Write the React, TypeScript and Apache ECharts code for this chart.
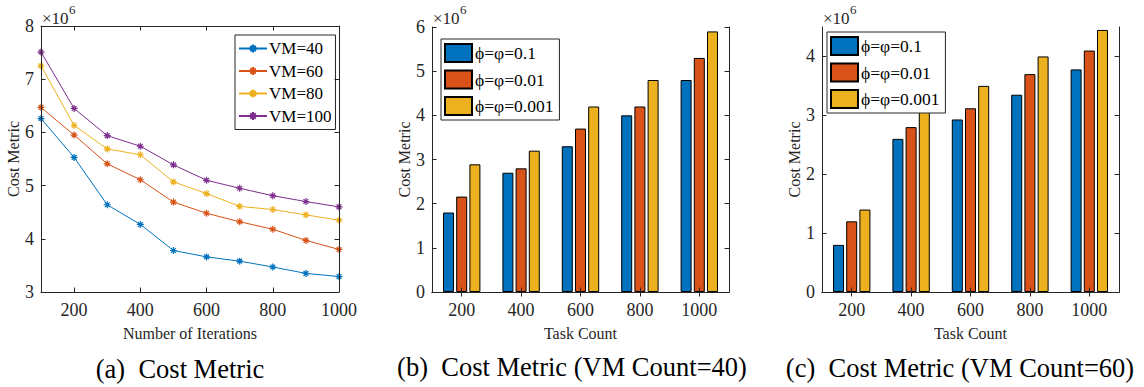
import React, { useEffect, useRef } from "react";
import * as echarts from "echarts";

const ITERATIONS = [100, 200, 300, 400, 500, 600, 700, 800, 900, 1000];
const ITER_TICKS = [200, 400, 600, 800, 1000];
const VM40 = [6.26, 5.53, 4.64, 4.27, 3.78, 3.66, 3.58, 3.47, 3.35, 3.29];
const VM60 = [6.47, 5.95, 5.41, 5.11, 4.69, 4.48, 4.32, 4.18, 3.97, 3.8];
const VM80 = [7.25, 6.13, 5.69, 5.58, 5.07, 4.85, 4.61, 4.55, 4.45, 4.35];
const VM100 = [7.51, 6.45, 5.94, 5.74, 5.39, 5.1, 4.95, 4.81, 4.7, 4.6];
const COST_TICKS = [3, 4, 5, 6, 7, 8];

const TASKS = ["200", "400", "600", "800", "1000"];
const B_P1 = [1.8, 2.7, 3.3, 4.0, 4.8];
const B_P01 = [2.16, 2.8, 3.7, 4.2, 5.3];
const B_P001 = [2.89, 3.2, 4.2, 4.8, 5.9];
const B_TICKS = [0, 1, 2, 3, 4, 5, 6];

const C_P1 = [0.8, 2.6, 2.93, 3.35, 3.78];
const C_P01 = [1.2, 2.8, 3.12, 3.7, 4.1];
const C_P001 = [1.4, 3.1, 3.5, 4.0, 4.45];
const C_TICKS = [0, 1, 2, 3, 4];

const VM_NAMES = ["VM=40", "VM=60", "VM=80", "VM=100"];
const PHI_NAMES = ["ϕ=φ=0.1", "ϕ=φ=0.01", "ϕ=φ=0.001"];
const CAPTIONS = ["(a)  Cost Metric", "(b)  Cost Metric (VM Count=40)", "(c)  Cost Metric (VM Count=60)"];

const BLUE = "#0072BD";
const ORANGE = "#D95319";
const YELLOW = "#EDB120";
const PURPLE = "#7E2F8E";
const AX = "#262626";
const FONT = "Liberation Serif";
const ASTERISK = "path://M5,0L5,10M0,5L10,5M1.6,1.6L8.4,8.4M1.6,8.4L8.4,1.6";

const GRIDS = [
  { left: 41, top: 26, width: 298, height: 266 },
  { left: 432, top: 27, width: 297, height: 265 },
  { left: 822, top: 27, width: 297, height: 265 },
];

export default function App() {
  const ref = useRef<HTMLDivElement>(null);
  useEffect(() => {
    if (!ref.current) return;
    const chart = echarts.init(ref.current, null, { renderer: "svg" });

    const axisLine = { show: true, lineStyle: { color: AX, width: 1 } };
    const fmt = (v: any) => String(v);
    const label = { color: AX, fontSize: 18, fontFamily: FONT, formatter: fmt };
    const nameStyle = { color: AX, fontSize: 16, fontFamily: FONT };

    const valueAxisPair = (gi: number, min: number, max: number, ticks: number[], pos: "x" | "y") => {
      const main: any = {
        type: "value",
        gridIndex: gi,
        min,
        max,
        position: pos === "x" ? "bottom" : "left",
        axisLine,
        axisTick: { show: true, inside: true, length: 4.5, lineStyle: { color: AX }, customValues: ticks },
        axisLabel: { ...label, margin: pos === "x" ? 9 : 7, customValues: ticks },
        splitLine: { show: false },
        name: pos === "x" ? "Number of Iterations" : "Cost Metric",
        nameLocation: "middle",
        nameGap: pos === "x" ? 33 : 19,
        nameTextStyle: nameStyle,
        z: 10,
      };
      const mirror: any = {
        type: "value",
        gridIndex: gi,
        min,
        max,
        position: pos === "x" ? "top" : "right",
        axisLine,
        axisTick: { show: true, inside: true, length: 4.5, lineStyle: { color: AX }, customValues: ticks },
        axisLabel: { show: false },
        splitLine: { show: false },
        z: 10,
      };
      return [main, mirror];
    };

    const catAxisPair = (gi: number) => [
      {
        type: "category",
        gridIndex: gi,
        data: TASKS,
        position: "bottom",
        axisLine,
        axisTick: { show: true, inside: true, alignWithLabel: true, length: 4.5, lineStyle: { color: AX } },
        axisLabel: { ...label, margin: 9 },
        splitLine: { show: false },
        name: "Task Count",
        nameLocation: "middle",
        nameGap: 33,
        nameTextStyle: nameStyle,
        z: 10,
      },
      {
        type: "category",
        gridIndex: gi,
        data: TASKS,
        position: "top",
        axisLine,
        axisTick: { show: true, inside: true, alignWithLabel: true, length: 4.5, lineStyle: { color: AX } },
        axisLabel: { show: false },
        splitLine: { show: false },
        z: 10,
      },
    ];

    const xAxes = [
      ...valueAxisPair(0, 100, 1000, ITER_TICKS, "x"),
      ...catAxisPair(1),
      ...catAxisPair(2),
    ];
    const yAxes = [
      ...valueAxisPair(0, 3, 8, COST_TICKS, "y"),
      ...valueAxisPair(1, 0, 6, B_TICKS, "y"),
      ...valueAxisPair(2, 0, 4.5, C_TICKS, "y"),
    ];

    const lineSeries = (name: string, vals: number[], color: string) => ({
      type: "line",
      name,
      xAxisIndex: 0,
      yAxisIndex: 0,
      data: ITERATIONS.map((x, i) => [x, vals[i]]),
      symbol: ASTERISK,
      symbolSize: 7,
      showAllSymbol: true,
      lineStyle: { color, width: 1 },
      itemStyle: { color, borderColor: color, borderWidth: 1.2 },
      z: 3,
    });

    const barSeries = (name: string, vals: number[], color: string, xi: number, yi: number) => ({
      type: "bar",
      name,
      xAxisIndex: xi,
      yAxisIndex: yi,
      data: vals,
      barWidth: 11,
      barGap: "20%",
      itemStyle: { color, borderColor: "#000", borderWidth: 1 },
    });

    const phiLegend = (left: number, top: number) => ({
      data: PHI_NAMES.map((n) => ({ name: n, icon: "rect" })),
      orient: "vertical",
      left,
      top,
      itemWidth: 27,
      itemHeight: 18,
      itemGap: 6.5,
      padding: [4, 6, 4, 3],
      borderColor: AX,
      borderWidth: 1,
      backgroundColor: "#fff",
      textStyle: { fontSize: 17.5, color: "#000", fontFamily: FONT, padding: [0, 0, 0, -2] },
      selectedMode: false,
    });

    const txt = (x: number, y: number, text: string, size: number, align = "left", color = AX) => ({
      type: "text",
      x,
      y,
      style: { text, fontSize: size, fontFamily: FONT, fill: color, align, verticalAlign: "middle" },
    });

    const graphics: any[] = [];
    const gx = [41, 432, 822];
    gx.forEach((x) => {
      graphics.push(txt(x + 1, 18.5, "×10", 17));
      graphics.push(txt(x + 28, 9, "6", 13));
    });
    graphics.push(txt(180, 369, CAPTIONS[0], 26.5, "center", "#000"));
    graphics.push(txt(572, 367, CAPTIONS[1], 26.5, "center", "#000"));
    graphics.push(txt(960, 368, CAPTIONS[2], 26.5, "center", "#000"));

    chart.setOption({
      animation: false,
      backgroundColor: "#fff",
      textStyle: { fontFamily: FONT },
      grid: GRIDS.map((g) => ({ ...g, containLabel: false, show: false })),
      xAxis: xAxes,
      yAxis: yAxes,
      legend: [
        {
          data: VM_NAMES,
          orient: "vertical",
          left: 235,
          top: 35,
          itemWidth: 28,
          itemHeight: 10,
          itemGap: 5.5,
          padding: [5, 4, 5, 3],
          borderColor: AX,
          borderWidth: 1,
          backgroundColor: "#fff",
          textStyle: { fontSize: 17, color: "#000", fontFamily: FONT, padding: [0, 0, 0, -3] },
          selectedMode: false,
        },
        phiLegend(441, 39),
        phiLegend(827, 32),
      ],
      series: [
        lineSeries(VM_NAMES[0], VM40, BLUE),
        lineSeries(VM_NAMES[1], VM60, ORANGE),
        lineSeries(VM_NAMES[2], VM80, YELLOW),
        lineSeries(VM_NAMES[3], VM100, PURPLE),
        barSeries(PHI_NAMES[0], B_P1, BLUE, 2, 2),
        barSeries(PHI_NAMES[1], B_P01, ORANGE, 2, 2),
        barSeries(PHI_NAMES[2], B_P001, YELLOW, 2, 2),
        barSeries(PHI_NAMES[0], C_P1, BLUE, 4, 4),
        barSeries(PHI_NAMES[1], C_P01, ORANGE, 4, 4),
        barSeries(PHI_NAMES[2], C_P001, YELLOW, 4, 4),
      ],
      graphic: graphics,
    });
    return () => chart.dispose();
  }, []);
  return (
    <div
      ref={ref}
      style={{ position: "fixed", left: 0, top: 0, width: 1144, height: 387, background: "#fff" }}
    />
  );
}
